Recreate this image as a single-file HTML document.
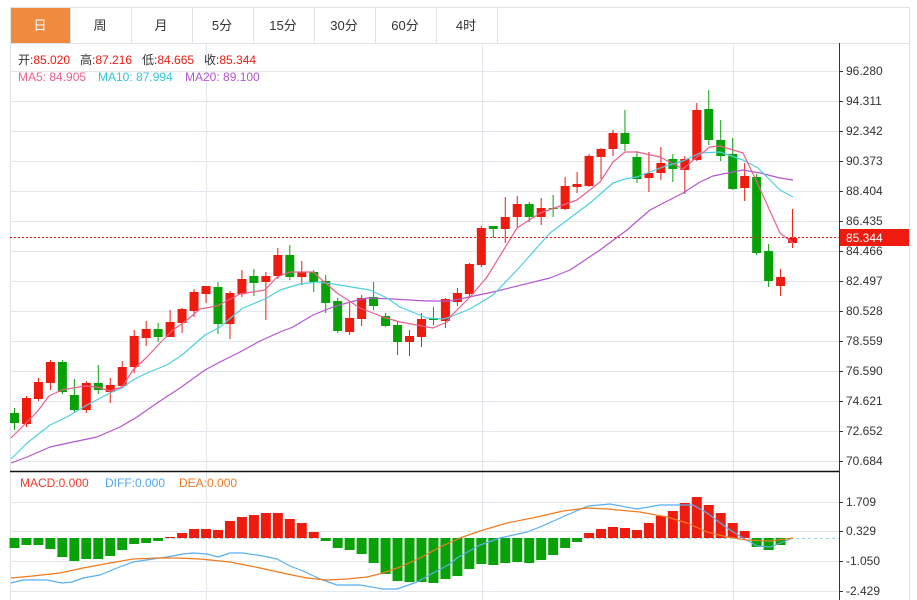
<!DOCTYPE html>
<html><head><meta charset="utf-8"><style>
html,body{margin:0;padding:0;background:#fff;width:917px;height:600px;overflow:hidden}
body{font-family:"Liberation Sans","Noto Sans CJK SC",sans-serif}
svg{position:absolute;left:0;top:0}
</style></head><body>
<svg id="s" width="917" height="600" xmlns="http://www.w3.org/2000/svg" font-family="Liberation Sans, Noto Sans CJK SC, sans-serif">
<rect x="0" y="0" width="917" height="600" fill="#fff"/>
<g stroke="#dfe3e8" stroke-width="1" fill="none">
<line x1="10" y1="7.5" x2="909" y2="7.5"/>
<line x1="10" y1="43.5" x2="909" y2="43.5"/>
<line x1="10.5" y1="7" x2="10.5" y2="600"/>
<line x1="909.5" y1="7" x2="909.5" y2="600"/>
<line x1="131.5" y1="7" x2="131.5" y2="43"/>
<line x1="192.5" y1="7" x2="192.5" y2="43"/>
<line x1="253.5" y1="7" x2="253.5" y2="43"/>
<line x1="314.5" y1="7" x2="314.5" y2="43"/>
<line x1="375.5" y1="7" x2="375.5" y2="43"/>
<line x1="436.5" y1="7" x2="436.5" y2="43"/>
<line x1="497.5" y1="7" x2="497.5" y2="43"/>
<line x1="70.5" y1="7" x2="70.5" y2="43"/>
</g>
<rect x="11" y="8" width="59" height="35" fill="#f08a3e"/>
<g font-size="13" fill="#333" text-anchor="middle">
<text x="40" y="30" fill="#fff">日</text>
<text x="100" y="30">周</text>
<text x="161" y="30">月</text>
<text x="222" y="30">5分</text>
<text x="283" y="30">15分</text>
<text x="344" y="30">30分</text>
<text x="405" y="30">60分</text>
<text x="466" y="30">4时</text>
</g>
<g id="grid" stroke="#e3e8ee" stroke-width="1"></g>
<g stroke="#e3e8ee"><line x1="206.5" y1="43" x2="206.5" y2="600"/><line x1="482.5" y1="43" x2="482.5" y2="600"/><line x1="733.5" y1="43" x2="733.5" y2="600"/></g>
<line x1="10" y1="471.5" x2="839" y2="471.5" stroke="#111" stroke-width="1.5"/>
<line x1="839.5" y1="43" x2="839.5" y2="600" stroke="#333" stroke-width="1"/>
<g id="ticks" font-size="12" fill="#333"></g>
<g id="plot"></g>
<line x1="10" y1="237.5" x2="839" y2="237.5" stroke="#ee1b0f" stroke-dasharray="2,2"/>
<rect x="840" y="229" width="69" height="17" fill="#ee1b0f"/>
<text x="846" y="242" font-size="12" fill="#fff">85.344</text>
<g font-size="12">
<text x="18" y="64" fill="#333">开:<tspan fill="#ee1b0f">85.020</tspan></text>
<text x="80" y="64" fill="#333">高:<tspan fill="#ee1b0f">87.216</tspan></text>
<text x="142" y="64" fill="#333">低:<tspan fill="#ee1b0f">84.665</tspan></text>
<text x="204" y="64" fill="#333">收:<tspan fill="#ee1b0f">85.344</tspan></text>
<text x="18" y="81" fill="#ee5f8d">MA5: 84.905</text>
<text x="98" y="81" fill="#33c6d8">MA10: 87.994</text>
<text x="185" y="81" fill="#b455d0">MA20: 89.100</text>
<text x="20" y="487" fill="#ee3b2f">MACD:0.000</text>
<text x="105" y="487" fill="#4fa8f0">DIFF:0.000</text>
<text x="179" y="487" fill="#f07a20">DEA:0.000</text>
</g>
</svg>
<script>
var NS="http://www.w3.org/2000/svg";
function el(p,t,a){var e=document.createElementNS(NS,t);for(var k in a)e.setAttribute(k,a[k]);p.appendChild(e);return e;}
var grid=document.getElementById('grid'),ticks=document.getElementById('ticks'),plot=document.getElementById('plot');
var labs=["96.280","94.311","92.342","90.373","88.404","86.435","84.466","82.497","80.528","78.559","76.590","74.621","72.652","70.684"];
for(var i=0;i<labs.length;i++){var y=71+30*i;el(grid,'line',{x1:10,y1:y+.5,x2:839,y2:y+.5});el(ticks,'line',{x1:839,y1:y+.5,x2:843,y2:y+.5,stroke:'#333'});var t=el(ticks,'text',{x:846,y:y+4});t.textContent=labs[i];}
var ml=[["1.709",502],["0.329",531],["-1.050",561],["-2.429",591]];
ml.forEach(function(m){el(grid,'line',{x1:10,y1:m[1]+.5,x2:839,y2:m[1]+.5});el(ticks,'line',{x1:839,y1:m[1]+.5,x2:843,y2:m[1]+.5,stroke:'#333'});var t=el(ticks,'text',{x:846,y:m[1]+4});t.textContent=m[0];});
var R="#ee1b0f",G="#08a208";
var C=[
['g',413,423,408,430],['r',398,424,396,427],['r',382,399,378,401],['r',362,383,360,390],['g',362,392,360,394],['g',395,410,379,413],['r',383,410,381,413],['g',383,390,365,394],['r',385,392,378,403],['r',367,386,361,388],
['r',336,367,330,373],['r',329,338,321,346],['g',329,337,323,342],['r',322,337,310,337],['r',309,323,308,333],['r',292,311,289,317],['r',286,294,286,303],['g',287,324,282,334],['r',293,324,291,339],['r',279,294,270,297],
['g',276,283,269,296],['r',276,282,272,320],['r',255,276,248,279],['g',255,277,245,280],['r',272,277,261,285],['g',272,282,270,292],['g',281,303,275,313],['g',301,331,298,333],['r',318,332,303,335],['r',298,319,295,326],
['g',297,306,282,310],['g',316,326,313,327],['g',325,342,321,355],['r',336,342,330,356],['r',319,337,313,347],['g',318,320,307,325],['r',299,321,298,328],['r',293,302,288,306],['r',264,294,263,297],['r',228,265,226,267],
['g',226,229,226,238],['r',217,229,197,243],['r',204,217,196,227],['g',204,217,202,222],['r',208,217,198,225],['g',208,209,195,217],['r',186,209,177,210],['r',184,187,172,193],['r',156,186,154,187],['r',149,157,148,179],
['r',133,149,130,156],['g',133,144,110,151],['g',157,179,151,183],['r',173,178,152,192],['r',163,173,147,180],['g',159,169,154,182],['r',159,170,156,194],['r',110,160,103,161],['g',109,140,90,145],['g',140,156,120,161],
['g',154,189,138,190],['r',176,188,163,201],['g',177,253,174,255],['g',251,281,244,287],['r',277,286,269,296],['r',238,243,209,248]];
function X(i){return 14.5+11.97*i;}
C.forEach(function(c,i){var x=X(i),col=c[0]=='r'?R:G;el(plot,'line',{x1:x,y1:c[3],x2:x,y2:c[4],stroke:col,'stroke-width':1});el(plot,'rect',{x:x-4.5,y:c[1],width:9,height:Math.max(1,c[2]-c[1]),fill:col});});
function pl(pts,col){el(plot,'polyline',{points:pts,fill:'none',stroke:col,'stroke-width':1.2,'stroke-linejoin':'round'});}
pl("11,463 27,457 50,447 73,442 97,437 120,427 137,417 157,403 180,388 205,370 220,362 240,352 260,341 280,332 293,327 313,315 333,307 350,302 367,298 393,299 427,301 450,301 493,292 550,278 570,270 600,250 627,230 650,210 683,193 700,182 713,176 743,170 760,173 780,178 793,180","#b455d0");
pl("11,459 27,443 50,425 67,417 87,405 110,393 122,388 133,380 147,373 167,365 182,355 205,335 220,327 233,316 243,308 265,299 280,290 300,284 317,282 333,284 370,290 387,298 400,307 427,318 443,319 450,317 470,309 493,295 517,270 550,233 590,203 613,183 625,179 637,177 663,167 683,161 700,153 720,152 743,160 758,168 780,190 793,197","#4dd0e1");
pl("11,438 37,412 49,396 62,390 85,386 97,387 110,391 122,387 133,370 147,357 160,343 173,330 187,320 200,309 217,306 240,294 265,290 277,277 290,272 313,272 337,293 360,308 383,317 400,322 433,328 447,322 450,317 470,297 487,277 517,228 540,213 577,200 600,182 613,162 625,152 637,152 660,157 683,169 697,157 710,147 720,146 743,153 755,178 780,233 793,243","#ee5f8d");
var H=[548,545,545,549,557,561,559,559,556,550,544,543,541,537,533,529,529,530,521,517,515,513,513,519,523,532,541,548,550,554,563,574,581,582,582,583,579,576,569,564,565,563,562,563,560,555,548,542,533,529,527,528,530,523,516,511,503,497,505,513,523,531,547,550,545,538];
el(plot,'line',{x1:10,y1:538.5,x2:839,y2:538.5,stroke:'#9fd3ee','stroke-dasharray':'3,3'});
H.forEach(function(v,i){var x=X(i);var top=Math.min(v,538),h=Math.abs(v-538);if(h<1)return;el(plot,'rect',{x:x-5,y:top,width:10,height:h,fill:v<538?R:G});});
pl("11,583 23,580 47,580 62,583 72,582 83,578 100,575 117,568 133,562 153,559 167,557 183,554 193,553 207,554 218,557 230,553 243,553 263,556 277,559 290,566 303,571 320,579 337,585 360,585 383,589 397,589 417,582 433,573 450,564 457,558 480,545 500,538 527,532 540,527 567,515 588,506 610,504 637,509 660,505 693,505 707,513 727,528 743,538 757,546 770,547 793,538","#5aaef0");
pl("11,578 33,576 60,573 83,568 110,563 133,559 157,558 177,558 200,559 230,562 260,568 287,574 307,578 327,580 347,579 367,577 383,573 400,567 420,558 440,547 460,538 480,531 507,523 537,517 563,511 587,508 607,509 640,512 667,517 687,523 707,532 727,537 747,540 770,541 793,538","#f07a20");
</script>
</body></html>
